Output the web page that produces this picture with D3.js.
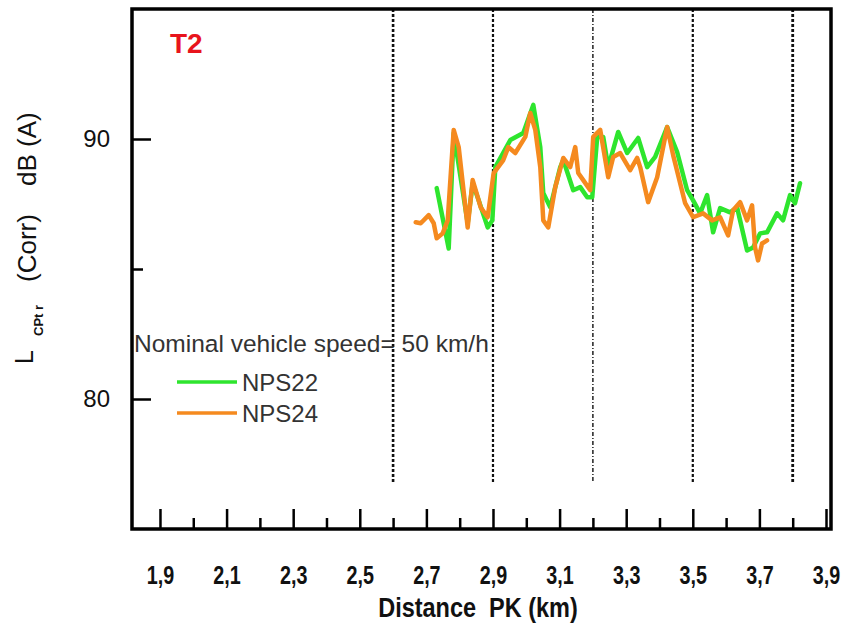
<!DOCTYPE html>
<html>
<head>
<meta charset="utf-8">
<script src="https://cdn.jsdelivr.net/npm/d3@7"></script>
<style>
  body { margin: 0; background: #fff; }
  svg { display: block; }
</style>
</head>
<body>
<div id="chart"></div>
<script>
const W = 847, H = 632;
const PLOT = { LEFT: 132, RIGHT: 831, TOP: 9, BOTTOM: 529 };

// data (km, dB(A))
const nps22Km = [2.731, 2.767, 2.782, 2.824, 2.839, 2.857, 2.884, 2.898, 2.907, 2.952, 2.991, 3.021, 3.042, 3.051, 3.072, 3.102, 3.111, 3.141, 3.162, 3.183, 3.198, 3.213, 3.231, 3.246, 3.276, 3.303, 3.336, 3.363, 3.387, 3.423, 3.453, 3.483, 3.501, 3.522, 3.543, 3.561, 3.582, 3.612, 3.633, 3.663, 3.681, 3.702, 3.723, 3.753, 3.771, 3.792, 3.807, 3.822];
const nps22Db = [88.11, 85.79, 90.23, 86.76, 88.30, 87.64, 86.60, 86.87, 88.92, 89.96, 90.23, 91.31, 89.69, 87.92, 87.37, 88.92, 89.19, 88.03, 88.15, 87.76, 87.76, 90.08, 90.08, 88.92, 90.27, 89.46, 90.04, 88.92, 89.31, 90.46, 89.50, 88.03, 87.64, 87.14, 87.84, 86.41, 87.34, 87.18, 87.37, 85.71, 85.83, 86.37, 86.41, 87.14, 86.87, 87.84, 87.53, 88.30];

const nps24Km = [2.668, 2.683, 2.707, 2.722, 2.731, 2.749, 2.764, 2.782, 2.797, 2.824, 2.839, 2.848, 2.863, 2.884, 2.902, 2.931, 2.946, 2.967, 2.997, 3.012, 3.027, 3.042, 3.051, 3.066, 3.087, 3.111, 3.132, 3.147, 3.156, 3.171, 3.192, 3.201, 3.222, 3.246, 3.261, 3.282, 3.312, 3.333, 3.342, 3.366, 3.393, 3.423, 3.441, 3.477, 3.501, 3.531, 3.558, 3.582, 3.606, 3.621, 3.642, 3.663, 3.678, 3.687, 3.696, 3.708, 3.723];
const nps24Db = [86.80, 86.76, 87.07, 86.76, 86.18, 86.37, 86.87, 90.35, 89.69, 86.60, 88.42, 88.03, 87.37, 86.99, 88.69, 89.19, 89.69, 89.46, 90.08, 91.00, 90.35, 88.92, 86.87, 86.60, 88.15, 89.27, 88.92, 89.69, 88.69, 88.42, 88.03, 90.08, 90.35, 88.53, 89.31, 89.46, 88.80, 89.27, 88.92, 87.57, 88.53, 90.46, 89.38, 87.53, 86.99, 87.14, 86.87, 86.99, 86.29, 87.26, 87.57, 86.87, 87.45, 85.83, 85.33, 85.98, 86.10];

const xMajorTicks = [1.9, 2.1, 2.3, 2.5, 2.7, 2.9, 3.1, 3.3, 3.5, 3.7, 3.9];
const xMinorTicks = [2.0, 2.2, 2.4, 2.6, 2.8, 3.0, 3.2, 3.4, 3.6, 3.8];
const yMajorTicks = [80, 90];
const yMinorTicks = [85];
const markerKm = [2.6, 2.9, 3.2, 3.5, 3.8];
const markerWidth = [2.6, 2.2, 1.4, 2.2, 2.8];

const seriesNames = ["NPS22", "NPS24"];
const seriesColors = ["#2ee52e", "#f58a1f"];

const svg = d3.select("#chart").append("svg")
    .attr("width", W)
    .attr("height", H);

const x = d3.scaleLinear().domain([1.816, 3.915]).range([PLOT.LEFT, PLOT.RIGHT]);
const y = d3.scaleLinear().domain([75, 95]).range([PLOT.BOTTOM, PLOT.TOP]);

const fmtComma = d => d3.format(".1f")(d).replace(".", ",");
const sans = "'Liberation Sans', Arial, sans-serif";

// vertical dotted markers
svg.append("g")
  .selectAll("line")
  .data(markerKm)
  .enter().append("line")
    .attr("x1", d => x(d))
    .attr("x2", d => x(d))
    .attr("y1", PLOT.TOP)
    .attr("y2", 483)
    .attr("stroke", "#111")
    .attr("stroke-width", (d, i) => markerWidth[i])
    .attr("stroke-dasharray", (d, i) => i === 2 ? "4,2,1,2" : "3,2");

// axes (ticks inward)
const xAxis = svg.append("g")
    .attr("transform", `translate(0,${PLOT.BOTTOM})`)
    .call(d3.axisBottom(x).tickValues(xMajorTicks).tickSize(-20).tickPadding(37).tickFormat(fmtComma));
svg.append("g")
    .attr("transform", `translate(0,${PLOT.BOTTOM})`)
    .call(d3.axisBottom(x).tickValues(xMinorTicks).tickSize(-11).tickFormat(""));

const yAxis = svg.append("g")
    .attr("transform", `translate(${PLOT.LEFT},0)`)
    .call(d3.axisLeft(y).tickValues(yMajorTicks).tickSize(-19).tickPadding(22).tickFormat(d3.format("d")));
svg.append("g")
    .attr("transform", `translate(${PLOT.LEFT},0)`)
    .call(d3.axisLeft(y).tickValues(yMinorTicks).tickSize(-11).tickFormat(""));

svg.selectAll(".domain").remove();
svg.selectAll(".tick line").attr("stroke", "#000").attr("stroke-width", 2.5);
xAxis.selectAll("text")
    .attr("font-family", sans)
    .attr("font-weight", "bold")
    .attr("font-size", "26px")
    .attr("transform", "scale(0.76,1)")
    .attr("fill", "#111");
yAxis.selectAll("text")
    .attr("font-family", sans)
    .attr("font-size", "24px")
    .attr("fill", "#111");

// frame
svg.append("rect")
    .attr("x", PLOT.LEFT)
    .attr("y", PLOT.TOP)
    .attr("width", PLOT.RIGHT - PLOT.LEFT)
    .attr("height", PLOT.BOTTOM - PLOT.TOP)
    .attr("fill", "none")
    .attr("stroke", "#000")
    .attr("stroke-width", 3.5);

// series
const line = d3.line().x(d => x(d[0])).y(d => y(d[1]));
const series = [d3.zip(nps22Km, nps22Db), d3.zip(nps24Km, nps24Db)];
svg.append("g")
  .selectAll("path")
  .data(series)
  .enter().append("path")
    .attr("d", line)
    .attr("fill", "none")
    .attr("stroke", (d, i) => seriesColors[i])
    .attr("stroke-width", 4.5)
    .attr("stroke-linejoin", "round")
    .attr("stroke-linecap", "round");

// T2 tag
svg.append("text")
    .attr("x", 170)
    .attr("y", 53)
    .attr("font-family", sans)
    .attr("font-weight", "bold")
    .attr("font-size", "28px")
    .attr("fill", "#e8141c")
    .text("T2");

// legend
svg.append("text")
    .attr("x", 134)
    .attr("y", 352)
    .attr("font-family", sans)
    .attr("font-size", "24.5px")
    .attr("fill", "#333")
    .text("Nominal vehicle speed= 50 km/h");

const legend = svg.append("g");
seriesNames.forEach((name, i) => {
  const ly = 382 + i * 31;
  legend.append("line")
      .attr("x1", 177).attr("x2", 237)
      .attr("y1", ly).attr("y2", ly)
      .attr("stroke", seriesColors[i])
      .attr("stroke-width", 3.5);
  legend.append("text")
      .attr("x", 242)
      .attr("y", ly + 9)
      .attr("font-family", sans)
      .attr("font-size", "24px")
      .attr("fill", "#333")
      .text(name);
});

// axis titles
svg.append("text")
    .attr("transform", "translate(478,617) scale(0.87,1)")
    .attr("text-anchor", "middle")
    .attr("font-family", sans)
    .attr("font-weight", "bold")
    .attr("font-size", "27px")
    .attr("fill", "#111")
    .attr("xml:space", "preserve")
    .text("Distance  PK (km)");

const yTitle = [
  { t: "L", x: 33, y: 364, size: 25, bold: false },
  { t: "CPt r", x: 43, y: 336, size: 13, bold: true },
  { t: "(Corr)", x: 36, y: 282, size: 26, bold: false },
  { t: "dB (A)", x: 36, y: 186, size: 26, bold: false }
];
svg.append("g")
  .selectAll("text")
  .data(yTitle)
  .enter().append("text")
    .attr("transform", d => `translate(${d.x},${d.y}) rotate(-90)`)
    .attr("font-family", sans)
    .attr("font-weight", d => d.bold ? "bold" : "normal")
    .attr("font-size", d => d.size + "px")
    .attr("fill", "#111")
    .text(d => d.t);
</script>
</body>
</html>
